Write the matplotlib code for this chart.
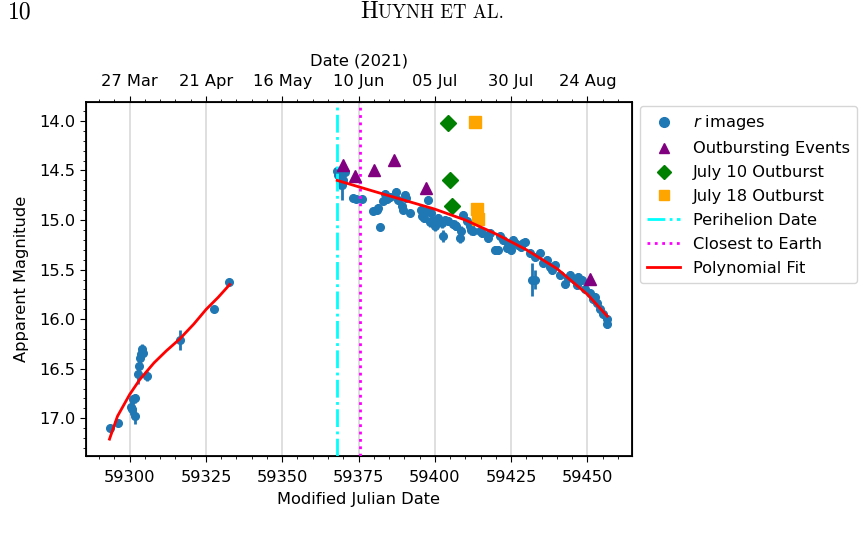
import matplotlib
matplotlib.use("Agg")
import matplotlib.pyplot as plt
from matplotlib.ticker import MultipleLocator
from matplotlib.lines import Line2D

# ---------------- data ----------------
r_mjd = [59293.4, 59296.2, 59300.5, 59300.9, 59301.1, 59301.6, 59301.9, 59302.7,
         59303.1, 59303.3, 59303.6, 59304.0, 59304.4, 59305.7, 59316.6, 59327.5, 59332.5,
         59367.8, 59368.3, 59368.9, 59369.4, 59369.6, 59370.0, 59370.5, 59373.2, 59374.3,
         59376.0, 59379.8, 59380.9, 59381.4, 59382.0, 59383.1, 59383.6, 59384.2, 59385.2,
         59387.4, 59388.0, 59389.1, 59389.6, 59390.2, 59390.7, 59391.8, 59395.6, 59395.9,
         59396.4, 59397.3, 59397.8, 59398.4, 59398.9, 59399.4, 59400.0, 59401.1, 59402.2,
         59402.7, 59403.3, 59404.4, 59405.8, 59406.6, 59407.1, 59408.2, 59408.7, 59409.3,
         59410.4, 59411.5, 59412.0, 59412.5, 59414.8, 59415.5, 59417.5, 59418.0, 59419.7,
         59420.8, 59421.3, 59422.4, 59423.5, 59424.0, 59425.1, 59425.7, 59426.2, 59427.3,
         59428.4, 59429.0, 59429.5, 59431.1, 59432.0, 59432.8, 59432.8, 59434.4, 59435.5,
         59436.6, 59437.7, 59438.5, 59439.3, 59441.0, 59442.6, 59443.5, 59444.3, 59445.9,
         59446.5, 59447.0, 59448.1, 59449.2, 59450.8, 59451.9, 59452.5, 59453.0, 59454.1,
         59455.2, 59456.3, 59456.5]
r_mag = [17.10, 17.05, 16.89, 16.91, 16.81, 16.98, 16.80, 16.55,
         16.47, 16.39, 16.35, 16.30, 16.34, 16.57, 16.21, 15.90, 15.63,
         14.51, 14.55, 14.61, 14.53, 14.65, 14.60, 14.52, 14.78, 14.79,
         14.79, 14.91, 14.90, 14.88, 15.07, 14.81, 14.74, 14.79, 14.77,
         14.72, 14.80, 14.86, 14.90, 14.75, 14.78, 14.93, 14.90, 14.96,
         14.98, 14.91, 14.80, 15.02, 14.93, 15.01, 15.06, 14.98, 15.03,
         15.16, 15.00, 15.01, 15.04, 15.05, 15.06, 15.18, 15.11, 14.95,
         15.01, 15.06, 15.10, 15.11, 15.11, 15.13, 15.18, 15.13, 15.30,
         15.30, 15.16, 15.20, 15.28, 15.23, 15.30, 15.20, 15.23, 15.25,
         15.27, 15.23, 15.22, 15.33, 15.60, 15.60, 15.37, 15.33, 15.43,
         15.40, 15.47, 15.50, 15.45, 15.55, 15.65, 15.58, 15.55, 15.60,
         15.66, 15.57, 15.60, 15.70, 15.74, 15.80, 15.78, 15.84, 15.90,
         15.95, 16.00, 16.05]
r_err = [0.02, 0.03, 0.08, 0.06, 0.05, 0.08, 0.05, 0.10,
         0.06, 0.06, 0.06, 0.05, 0.05, 0.05, 0.10, 0.02, 0.02,
         0.05, 0.06, 0.08, 0.04, 0.15, 0.05, 0.04, 0.03, 0.03,
         0.03, 0.03, 0.03, 0.04, 0.03, 0.03, 0.04, 0.03, 0.04,
         0.04, 0.04, 0.03, 0.03, 0.04, 0.04, 0.03, 0.04, 0.04,
         0.04, 0.04, 0.04, 0.05, 0.04, 0.05, 0.05, 0.04, 0.05,
         0.06, 0.04, 0.04, 0.04, 0.05, 0.04, 0.05, 0.05, 0.04,
         0.04, 0.04, 0.05, 0.04, 0.04, 0.04, 0.04, 0.04, 0.04,
         0.04, 0.04, 0.04, 0.04, 0.04, 0.04, 0.04, 0.04, 0.04,
         0.04, 0.04, 0.04, 0.04, 0.17, 0.10, 0.04, 0.04, 0.04,
         0.04, 0.04, 0.04, 0.04, 0.04, 0.04, 0.04, 0.04, 0.04,
         0.04, 0.04, 0.04, 0.04, 0.04, 0.04, 0.04, 0.04, 0.04,
         0.04, 0.04, 0.04]

outb_mjd = [59370.0, 59373.8, 59380.1, 59386.7, 59397.0, 59450.8]
outb_mag = [14.44, 14.56, 14.50, 14.39, 14.68, 15.59]

jul10_mjd = [59404.3, 59404.9, 59405.5]
jul10_mag = [14.02, 14.60, 14.86]

jul18_mjd = [59413.3, 59413.9, 59414.2]
jul18_mag = [14.01, 14.89, 14.99]

fit1_mjd = [59293.4, 59296.0, 59300.0, 59303.3, 59308.0, 59312.0, 59316.4, 59321.0,
            59325.1, 59329.0, 59332.8]
fit1_mag = [17.21, 16.98, 16.76, 16.61, 16.44, 16.32, 16.20, 16.05, 15.90, 15.78, 15.65]

fit2_mjd = [59368.0, 59380.0, 59390.0, 59400.0, 59410.0, 59420.0, 59430.0, 59440.0,
            59450.0, 59456.5]
fit2_mag = [14.60, 14.71, 14.80, 14.89, 15.00, 15.14, 15.30, 15.49, 15.75, 15.97]

perihelion_mjd = 59368.0
closest_mjd = 59375.5

date_ticks = [59300, 59325, 59350, 59375, 59400, 59425, 59450]
date_labels = ['27 Mar', '21 Apr', '16 May', '10 Jun', '05 Jul', '30 Jul', '24 Aug']

# ---------------- figure ----------------
FS = 11.7
plt.rcParams['font.family'] = ['DejaVu Sans']
fig = plt.figure(figsize=(8.63, 5.36), dpi=100)
ax = fig.add_axes([0.0993, 0.1493, 0.6330, 0.6610])

ax.grid(axis='x', color='#d9d9d9', lw=1.2)
ax.set_axisbelow(True)

blue = '#1f77b4'
ax.errorbar(r_mjd, r_mag, yerr=r_err, fmt='none', ecolor=blue, elinewidth=2.0, zorder=2)
ax.plot(r_mjd, r_mag, 'o', color=blue, ms=5.5, ls='none', zorder=3)
ax.plot(outb_mjd, outb_mag, '^', color='purple', ms=9, ls='none', zorder=4)
ax.plot(jul10_mjd, jul10_mag, 'D', color='green', ms=8, ls='none', zorder=4)
ax.plot(jul18_mjd, jul18_mag, 's', color='orange', ms=8.5, ls='none', zorder=4)
ax.axvline(perihelion_mjd, color='cyan', ls='-.', lw=2, zorder=3)
ax.axvline(closest_mjd, color='magenta', ls=':', lw=2, zorder=3)
ax.plot(fit1_mjd, fit1_mag, '-', color='red', lw=2, zorder=5)
ax.plot(fit2_mjd, fit2_mag, '-', color='red', lw=2, zorder=5)

ax.set_xlim(59285.6, 59464.6)
ax.set_ylim(17.38, 13.806)
ax.xaxis.set_major_locator(MultipleLocator(25))
ax.xaxis.set_minor_locator(MultipleLocator(5))
ax.yaxis.set_major_locator(MultipleLocator(0.5))
ax.yaxis.set_minor_locator(MultipleLocator(0.1))
ax.tick_params(axis='both', which='major', labelsize=FS, length=4)
ax.tick_params(axis='x', which='major', pad=6)
ax.tick_params(axis='both', which='minor', length=2.5)
ax.set_xlabel('Modified Julian Date', fontsize=FS, labelpad=5)
ax.set_ylabel('Apparent Magnitude', fontsize=FS, labelpad=7)
for s in ax.spines.values():
    s.set_linewidth(1.3)

ax2 = ax.twiny()
ax2.set_xlim(ax.get_xlim())
ax2.set_xticks(date_ticks)
ax2.set_xticklabels(date_labels)
ax2.xaxis.set_minor_locator(MultipleLocator(5))
ax2.tick_params(axis='x', which='major', labelsize=FS, length=4, pad=5)
ax2.tick_params(axis='x', which='minor', length=2.5)
ax2.set_xlabel('Date (2021)', fontsize=FS, labelpad=6)

handles = [
    Line2D([], [], marker='o', color=blue, ls='none', ms=7),
    Line2D([], [], marker='^', color='purple', ls='none', ms=7),
    Line2D([], [], marker='D', color='green', ls='none', ms=7),
    Line2D([], [], marker='s', color='orange', ls='none', ms=7),
    Line2D([], [], color='cyan', ls='-.', lw=2),
    Line2D([], [], color='magenta', ls=':', lw=2),
    Line2D([], [], color='red', ls='-', lw=2),
]
labels = [r'$r$ images', 'Outbursting Events', 'July 10 Outburst', 'July 18 Outburst',
          'Perihelion Date', 'Closest to Earth', 'Polynomial Fit']
fig.legend(handles, labels, loc='upper left', bbox_to_anchor=(640 / 863, 1 - 106 / 536),
           fontsize=FS, frameon=True, borderaxespad=0, labelspacing=0.55,
           handletextpad=0.8, borderpad=0.45)

# page header
fig.text(8 / 863, 1 - 12 / 536, '10', family='cmr10', fontsize=17, ha='left', va='center')
x0 = 378 / 863
fig.text(x0, 1 - 12 / 536, 'H', family='cmr10', fontsize=17, ha='right', va='center')
fig.text(x0, 1 - 13 / 536, 'UYNH ET AL.', family='cmr10', fontsize=13.5, ha='left',
         va='center')

fig.savefig('out.png', dpi=100)
